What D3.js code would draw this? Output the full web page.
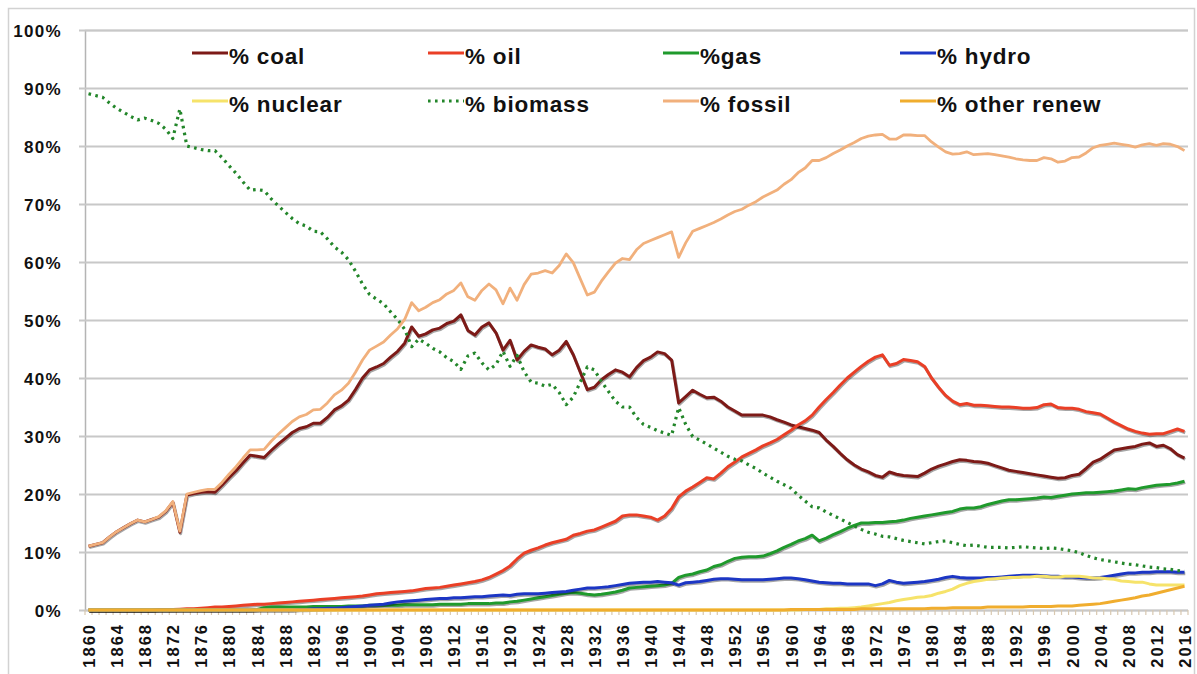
<!DOCTYPE html>
<html>
<head>
<meta charset="utf-8">
<script src="https://cdn.jsdelivr.net/npm/d3@7"></script>
<style>
    body { margin: 0; background: #fff; }
    svg text { font-family: "Liberation Sans", Arial, sans-serif; font-weight: bold; fill: #111; }
</style>
</head>
<body>
<svg id="chart" width="1197" height="674"></svg>
<script>
// categories: one per year
const years = d3.range(1860, 2017);

// shares of world primary energy, percent
const coal = [
    11.0, 11.3, 11.6, 12.6, 13.5, 14.2, 14.9, 15.5, 15.2, 15.6,
    16.0, 17.0, 18.6, 13.4, 19.8, 20.1, 20.3, 20.4, 20.3, 21.5,
    22.8, 24.0, 25.4, 26.7, 26.5, 26.3, 27.5, 28.6, 29.6, 30.6,
    31.3, 31.6, 32.2, 32.2, 33.2, 34.5, 35.2, 36.2, 38.0, 40.0,
    41.4, 41.9, 42.5, 43.6, 44.6, 46.0, 48.8, 47.2, 47.6, 48.3,
    48.6, 49.4, 49.8, 50.9, 48.2, 47.4, 48.8, 49.5, 47.8, 44.8,
    46.5, 43.1, 44.6, 45.7, 45.3, 45.0, 44.0, 44.8, 46.3, 44.0,
    41.0, 38.0, 38.4, 39.7, 40.6, 41.4, 41.0, 40.2, 41.8, 43.0,
    43.6, 44.5, 44.2, 43.1, 35.7, 36.8, 37.9, 37.2, 36.6, 36.7,
    36.0, 35.0, 34.3, 33.6, 33.6, 33.6, 33.6, 33.3, 32.8, 32.4,
    31.9, 31.6, 31.3, 31.0, 30.6, 29.3, 28.2, 27.0, 25.9, 25.0,
    24.3, 23.8, 23.2, 22.9, 23.8, 23.4, 23.2, 23.1, 23.0, 23.6,
    24.3, 24.8, 25.2, 25.6, 25.9, 25.8, 25.6, 25.5, 25.3, 24.9,
    24.5, 24.1, 23.9, 23.7, 23.5, 23.3, 23.1, 22.9, 22.7, 22.8,
    23.2, 23.4, 24.4, 25.5, 26.0, 26.8, 27.6, 27.8, 28.0, 28.2,
    28.6, 28.8, 28.2, 28.4, 27.8, 26.8, 26.2
];
const oil = [
    0, 0, 0, 0, 0, 0, 0, 0, 0, 0,
    0.1, 0.1, 0.1, 0.15, 0.2, 0.2, 0.3, 0.4, 0.5, 0.5,
    0.6, 0.7, 0.8, 0.9, 1.0, 1.0, 1.1, 1.2, 1.3, 1.4,
    1.5, 1.6, 1.7, 1.8, 1.9, 2.0, 2.1, 2.2, 2.3, 2.4,
    2.6, 2.8, 2.9, 3.0, 3.1, 3.2, 3.3, 3.5, 3.7, 3.8,
    3.9, 4.1, 4.3, 4.5, 4.7, 4.9, 5.2, 5.6, 6.2, 6.8,
    7.6, 8.8, 9.8, 10.3, 10.7, 11.2, 11.6, 11.9, 12.2, 12.9,
    13.2, 13.6, 13.8, 14.3, 14.8, 15.3, 16.2, 16.4, 16.4, 16.2,
    16.0, 15.5, 16.2, 17.5, 19.5, 20.5, 21.2, 22.0, 22.8, 22.6,
    23.6, 24.7, 25.5, 26.4, 27.0, 27.6, 28.3, 28.8, 29.4, 30.2,
    31.0, 31.9, 32.6, 33.6, 35.0, 36.3, 37.5, 38.8, 40.0, 41.0,
    42.0, 42.9, 43.6, 44.0, 42.2, 42.5, 43.2, 43.0, 42.8, 42.0,
    40.0, 38.4, 37.0, 36.0, 35.4, 35.6, 35.3, 35.3, 35.2, 35.1,
    35.0, 35.0, 34.9, 34.8, 34.8, 34.9, 35.4, 35.5, 34.9, 34.8,
    34.8, 34.6, 34.2, 34.0, 33.8, 33.1, 32.4, 31.8, 31.2, 30.8,
    30.5, 30.3, 30.4, 30.4, 30.8, 31.2, 30.8
];
const gas = [
    0, 0, 0, 0, 0, 0, 0, 0, 0, 0,
    0, 0, 0, 0, 0, 0, 0, 0, 0, 0,
    0, 0, 0, 0, 0.1, 0.4, 0.5, 0.5, 0.5, 0.5,
    0.5, 0.5, 0.6, 0.6, 0.6, 0.6, 0.6, 0.7, 0.7, 0.7,
    0.8, 0.8, 0.8, 0.8, 0.8, 0.9, 0.9, 0.9, 0.9, 0.9,
    1.0, 1.0, 1.0, 1.0, 1.1, 1.1, 1.1, 1.1, 1.2, 1.2,
    1.4, 1.5, 1.7, 1.9, 2.1, 2.3, 2.5, 2.7, 2.9, 3.0,
    2.9, 2.7, 2.6, 2.7, 2.9, 3.1, 3.4, 3.8, 3.9, 4.0,
    4.1, 4.2, 4.3, 4.6, 5.6, 6.0, 6.2, 6.6, 6.9, 7.5,
    7.8, 8.4, 8.9, 9.1, 9.2, 9.2, 9.3, 9.7, 10.2, 10.8,
    11.3, 11.9, 12.3, 12.9, 11.9, 12.4, 13.0, 13.5, 14.1, 14.6,
    15.0, 15.0, 15.1, 15.1, 15.2, 15.3, 15.5, 15.8, 16.0, 16.2,
    16.4, 16.6, 16.8, 17.0, 17.4, 17.6, 17.6, 17.8, 18.2, 18.5,
    18.8, 19.0, 19.0, 19.1, 19.2, 19.3, 19.5, 19.4, 19.6, 19.8,
    20.0, 20.1, 20.2, 20.2, 20.3, 20.4, 20.5, 20.7, 20.9, 20.8,
    21.1, 21.3, 21.5, 21.6, 21.7, 21.9, 22.2
];
const hydro = [
    0, 0, 0, 0, 0, 0, 0, 0, 0, 0,
    0, 0, 0, 0, 0, 0, 0, 0, 0, 0,
    0, 0, 0, 0, 0, 0, 0, 0, 0, 0,
    0.1, 0.1, 0.2, 0.2, 0.3, 0.3, 0.4, 0.5, 0.6, 0.7,
    0.8, 0.9, 1.0, 1.2, 1.4, 1.5, 1.6, 1.7, 1.8, 1.9,
    2.0, 2.0, 2.1, 2.1, 2.2, 2.3, 2.3, 2.4, 2.5, 2.6,
    2.5, 2.7, 2.8, 2.8, 2.8, 2.9, 3.0, 3.1, 3.2, 3.4,
    3.6, 3.8, 3.8, 3.9, 4.0, 4.2, 4.4, 4.6, 4.7, 4.8,
    4.8, 4.9, 4.8, 4.7, 4.3, 4.7, 4.8, 4.9, 5.1, 5.3,
    5.4, 5.4, 5.3, 5.2, 5.2, 5.2, 5.2, 5.3, 5.4, 5.5,
    5.5, 5.4, 5.2, 5.0, 4.8, 4.7, 4.6, 4.6, 4.5, 4.5,
    4.5, 4.5, 4.2, 4.5, 5.1, 4.8, 4.6, 4.7, 4.8, 4.9,
    5.1, 5.3, 5.6, 5.8, 5.6, 5.5, 5.5, 5.5, 5.6, 5.6,
    5.7, 5.8, 5.9, 6.0, 6.0, 6.0, 5.9, 5.8, 5.8, 5.7,
    5.7, 5.6, 5.5, 5.5, 5.6, 5.8, 6.0, 6.2, 6.4, 6.4,
    6.5, 6.5, 6.6, 6.6, 6.6, 6.5, 6.5
];
const nuclear = [
    0, 0, 0, 0, 0, 0, 0, 0, 0, 0,
    0, 0, 0, 0, 0, 0, 0, 0, 0, 0,
    0, 0, 0, 0, 0, 0, 0, 0, 0, 0,
    0, 0, 0, 0, 0, 0, 0, 0, 0, 0,
    0, 0, 0, 0, 0, 0, 0, 0, 0, 0,
    0, 0, 0, 0, 0, 0, 0, 0, 0, 0,
    0, 0, 0, 0, 0, 0, 0, 0, 0, 0,
    0, 0, 0, 0, 0, 0, 0, 0, 0, 0,
    0, 0, 0, 0, 0, 0, 0, 0, 0, 0,
    0, 0, 0, 0, 0, 0, 0, 0, 0, 0,
    0, 0, 0.1, 0.1, 0.1, 0.2, 0.2, 0.3, 0.3, 0.4,
    0.5, 0.7, 0.9, 1.1, 1.3, 1.6, 1.8, 2.0, 2.2, 2.3,
    2.5, 2.9, 3.2, 3.6, 4.2, 4.6, 4.9, 5.1, 5.3, 5.4,
    5.5, 5.6, 5.6, 5.7, 5.7, 5.8, 5.8, 5.7, 5.7, 5.8,
    5.8, 5.8, 5.7, 5.5, 5.5, 5.4, 5.3, 5.0, 4.9, 4.8,
    4.8, 4.5, 4.3, 4.3, 4.3, 4.3, 4.3
];
const biomass = [
    89.0, 88.7, 88.4, 87.4, 86.5, 85.8, 85.1, 84.5, 84.8, 84.4,
    83.9, 82.9, 81.3, 86.4, 80.0, 79.7, 79.4, 79.2, 79.2, 78.0,
    76.6, 75.3, 73.8, 72.4, 72.5, 72.3, 70.9, 69.7, 68.6, 67.5,
    66.6, 66.2, 65.3, 65.2, 64.0, 62.6, 61.7, 60.4, 58.4, 56.2,
    54.4, 53.6, 52.8, 51.4, 50.1, 48.4, 45.4, 46.7, 46.0, 45.1,
    44.5, 43.5, 42.8, 41.5, 43.8, 44.3, 42.6, 41.4, 42.3, 44.6,
    42.0, 43.9, 41.1, 39.3, 39.1, 38.6, 38.9, 37.5, 35.4, 36.7,
    39.3, 41.9, 41.4, 39.4, 37.7, 36.0, 35.0, 35.0, 33.2, 32.0,
    31.5, 30.9, 30.5, 30.1, 34.9, 32.0, 29.9, 29.3, 28.6, 27.9,
    27.2, 26.5, 26.0, 25.7, 25.0, 24.4, 23.6, 22.9, 22.2, 21.6,
    21.0, 19.8, 18.8, 17.8, 17.6, 16.9, 16.3, 15.7, 15.1, 14.5,
    13.9, 13.4, 13.1, 12.7, 12.6, 12.3, 12.0, 11.8, 11.6, 11.4,
    11.6, 11.8, 11.9, 11.6, 11.3, 11.1, 11.2, 11.0, 10.8, 10.8,
    10.8, 10.7, 10.8, 10.9, 10.8, 10.7, 10.6, 10.7, 10.6, 10.4,
    10.2, 9.9, 9.4, 9.0, 8.7, 8.5, 8.3, 8.1, 7.9, 7.8,
    7.6, 7.4, 7.3, 7.1, 7.0, 6.8, 6.7
];
const fossil = [
    11.0, 11.3, 11.6, 12.6, 13.5, 14.2, 14.9, 15.5, 15.2, 15.6,
    16.1, 17.1, 18.7, 13.6, 20.0, 20.3, 20.6, 20.8, 20.8, 22.0,
    23.4, 24.7, 26.2, 27.6, 27.6, 27.7, 29.1, 30.3, 31.4, 32.5,
    33.3, 33.7, 34.5, 34.6, 35.7, 37.1, 37.9, 39.1, 41.0, 43.1,
    44.8, 45.5, 46.2, 47.4, 48.5, 50.1, 53.0, 51.6, 52.2, 53.0,
    53.5, 54.5, 55.1, 56.4, 54.0, 53.4, 55.1, 56.2, 55.2, 52.8,
    55.5, 53.4, 56.1, 57.9, 58.1, 58.5, 58.1, 59.4, 61.4, 59.9,
    57.1, 54.3, 54.8, 56.7, 58.3, 59.8, 60.6, 60.4, 62.1, 63.2,
    63.7, 64.2, 64.7, 65.2, 60.8, 63.3, 65.3, 65.8, 66.3, 66.8,
    67.4, 68.1, 68.7, 69.1, 69.8, 70.4, 71.2, 71.8, 72.4, 73.4,
    74.2, 75.4, 76.2, 77.5, 77.5, 78.0, 78.7, 79.3, 80.0, 80.6,
    81.3, 81.7, 81.9, 82.0, 81.2, 81.2, 81.9, 81.9, 81.8, 81.8,
    80.7, 79.8, 79.0, 78.6, 78.7, 79.0, 78.5, 78.6, 78.7, 78.5,
    78.3, 78.1, 77.8, 77.6, 77.5, 77.5, 78.0, 77.8, 77.2, 77.4,
    78.0, 78.1, 78.8, 79.7, 80.1, 80.3, 80.5, 80.3, 80.1, 79.8,
    80.2, 80.4, 80.1, 80.4, 80.3, 79.9, 79.2
];
const otherRenew = [
    0, 0, 0, 0, 0, 0, 0, 0, 0, 0,
    0, 0, 0, 0, 0, 0, 0, 0, 0, 0,
    0, 0, 0, 0, 0, 0, 0, 0, 0, 0,
    0, 0, 0, 0, 0, 0, 0, 0, 0, 0,
    0, 0, 0, 0, 0, 0, 0, 0, 0, 0,
    0, 0, 0, 0, 0, 0, 0, 0, 0, 0,
    0, 0, 0, 0, 0, 0, 0, 0, 0, 0,
    0, 0, 0, 0, 0, 0, 0, 0, 0, 0,
    0, 0, 0, 0, 0, 0, 0, 0, 0, 0,
    0, 0, 0, 0, 0, 0, 0, 0, 0, 0,
    0.1, 0.1, 0.1, 0.1, 0.1, 0.1, 0.1, 0.1, 0.1, 0.1,
    0.2, 0.2, 0.2, 0.2, 0.2, 0.2, 0.2, 0.2, 0.2, 0.2,
    0.3, 0.3, 0.3, 0.4, 0.4, 0.4, 0.4, 0.4, 0.5, 0.5,
    0.5, 0.5, 0.5, 0.5, 0.6, 0.6, 0.6, 0.6, 0.7, 0.7,
    0.7, 0.8, 0.9, 1.0, 1.1, 1.3, 1.5, 1.7, 1.9, 2.1,
    2.4, 2.6, 2.9, 3.2, 3.5, 3.8, 4.1
];

const yTicks = [0, 10, 20, 30, 40, 50, 60, 70, 80, 90, 100];
const xTickYears = years.filter(d => (d - 1860) % 4 === 0);

// drawing order follows the spreadsheet series order
const series = [
    { name: "% coal", values: coal, color: "#7d1a17", width: 3, shadow: true },
    { name: "% oil", values: oil, color: "#ea3f26", width: 3, shadow: true },
    { name: "%gas", values: gas, color: "#1f9a2c", width: 3, shadow: true },
    { name: "% hydro", values: hydro, color: "#1c36c4", width: 3, shadow: true },
    { name: "% nuclear", values: nuclear, color: "#f6e36a", width: 3 },
    { name: "% biomass", values: biomass, color: "#23862a", width: 3.2, dash: "2.6,4.4" },
    { name: "% fossil", values: fossil, color: "#f1b07c", width: 2.8 },
    { name: "% other renew", values: otherRenew, color: "#f0ad2e", width: 3 }
];

const svg = d3.select("#chart");

// outer chart frame
svg.append("rect")
    .attr("x", 8.5).attr("y", 8.5)
    .attr("width", 1186).attr("height", 700)
    .attr("fill", "none")
    .attr("stroke", "#d2d2d2")
    .attr("stroke-width", 1.5);

const plotLeft = 85, plotRight = 1188, plotTop = 30, plotBottom = 610;

const x = d3.scalePoint().domain(years).range([plotLeft, plotRight]).padding(0.5);
const y = d3.scaleLinear().domain([0, 100]).range([plotBottom, plotTop]);

// y axis + gridlines
const yAxis = svg.append("g")
    .attr("transform", `translate(${plotLeft},0)`)
    .call(d3.axisLeft(y).tickValues(yTicks).tickFormat(d => d + "%").tickSize(-(plotRight - plotLeft)).tickPadding(23));
yAxis.select(".domain").attr("stroke", "#b4b4b4").attr("stroke-width", 1.5);
yAxis.selectAll(".tick line").attr("x1", -6).attr("stroke", "#c8c8c8").attr("stroke-width", 2);
yAxis.selectAll(".tick text")
    .style("font-size", "17px")
    .style("letter-spacing", "1.3px")
    .attr("dy", "0.4em");

// x axis: small tick marks between categories
const step = x.step();
const boundaries = years.map(d => x(d) - step / 2).concat([x(2016) + step / 2]);
svg.append("g").selectAll("line")
    .data(boundaries)
    .join("line")
    .attr("x1", d => d).attr("x2", d => d)
    .attr("y1", plotBottom).attr("y2", plotBottom + 5)
    .attr("stroke", "#d8c8b0")
    .attr("stroke-width", 1.2);

const xAxis = svg.append("g")
    .attr("transform", `translate(0,${plotBottom})`)
    .call(d3.axisBottom(x).tickValues(xTickYears).tickSize(0));
xAxis.select(".domain").remove();
xAxis.selectAll(".tick text")
    .attr("transform", "rotate(-90)")
    .attr("text-anchor", "end")
    .attr("x", -13)
    .attr("y", 0)
    .attr("dy", "0.36em")
    .style("font-size", "16.5px")
    .style("letter-spacing", "2px");

// series lines
const line = d3.line()
    .x((d, i) => x(years[i]))
    .y(d => y(d));

const lines = svg.append("g");
series.forEach(s => {
    if (s.shadow) {
        lines.append("path")
            .attr("d", line(s.values))
            .attr("fill", "none")
            .attr("stroke", "#000")
            .attr("stroke-opacity", 0.35)
            .attr("stroke-width", s.width)
            .attr("stroke-linejoin", "round")
            .attr("transform", "translate(0.8,1.4)");
    }
    lines.append("path")
        .attr("d", line(s.values))
        .attr("fill", "none")
        .attr("stroke", s.color)
        .attr("stroke-width", s.width)
        .attr("stroke-linejoin", "round")
        .attr("stroke-dasharray", s.dash || null);
});

// legend, 4 columns x 2 rows
const legendCols = [192, 428, 663, 900];
const legendRows = [53, 101];
const legend = svg.append("g").selectAll("g")
    .data(series)
    .join("g")
    .attr("transform", (d, i) => `translate(${legendCols[i % 4]},${legendRows[Math.floor(i / 4)]})`);
legend.append("line")
    .attr("x1", 0).attr("x2", 36)
    .attr("stroke", d => d.color)
    .attr("stroke-width", d => d.width)
    .attr("stroke-dasharray", d => d.dash || null);
legend.append("text")
    .attr("x", 37)
    .attr("y", 3)
    .attr("dy", "0.35em")
    .style("font-size", "22.5px")
    .style("letter-spacing", "0.8px")
    .text(d => d.name);
</script>
</body>
</html>
